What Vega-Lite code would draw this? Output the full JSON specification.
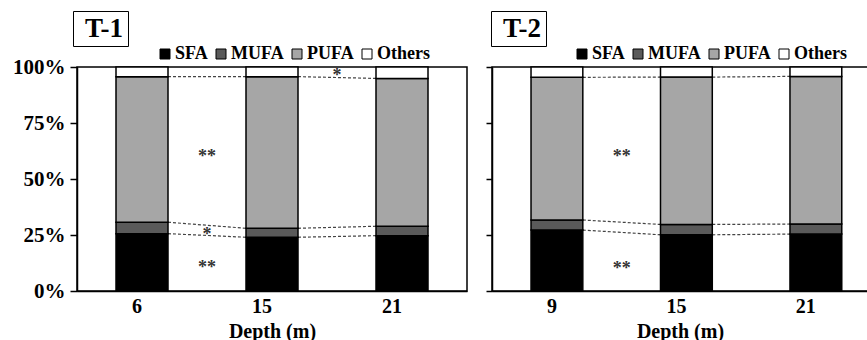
{
  "$schema": "https://vega.github.io/schema/vega-lite/v6.json",
  "padding": {"left": 11, "top": 9, "right": 0, "bottom": 0},
  "background": "white",
  "spacing": 16,
  "datasets": {
    "fa": [
      {"panel": "T-1", "depth": 6, "fa": "SFA", "pct": 25.6},
      {"panel": "T-1", "depth": 6, "fa": "MUFA", "pct": 5.1},
      {"panel": "T-1", "depth": 6, "fa": "PUFA", "pct": 65.0},
      {"panel": "T-1", "depth": 6, "fa": "Others", "pct": 4.3},
      {"panel": "T-1", "depth": 15, "fa": "SFA", "pct": 24.0},
      {"panel": "T-1", "depth": 15, "fa": "MUFA", "pct": 4.0},
      {"panel": "T-1", "depth": 15, "fa": "PUFA", "pct": 67.7},
      {"panel": "T-1", "depth": 15, "fa": "Others", "pct": 4.3},
      {"panel": "T-1", "depth": 21, "fa": "SFA", "pct": 24.7},
      {"panel": "T-1", "depth": 21, "fa": "MUFA", "pct": 4.2},
      {"panel": "T-1", "depth": 21, "fa": "PUFA", "pct": 66.0},
      {"panel": "T-1", "depth": 21, "fa": "Others", "pct": 5.1},
      {"panel": "T-2", "depth": 9, "fa": "SFA", "pct": 27.2},
      {"panel": "T-2", "depth": 9, "fa": "MUFA", "pct": 4.5},
      {"panel": "T-2", "depth": 9, "fa": "PUFA", "pct": 63.7},
      {"panel": "T-2", "depth": 9, "fa": "Others", "pct": 4.6},
      {"panel": "T-2", "depth": 15, "fa": "SFA", "pct": 25.1},
      {"panel": "T-2", "depth": 15, "fa": "MUFA", "pct": 4.6},
      {"panel": "T-2", "depth": 15, "fa": "PUFA", "pct": 65.8},
      {"panel": "T-2", "depth": 15, "fa": "Others", "pct": 4.5},
      {"panel": "T-2", "depth": 21, "fa": "SFA", "pct": 25.4},
      {"panel": "T-2", "depth": 21, "fa": "MUFA", "pct": 4.5},
      {"panel": "T-2", "depth": 21, "fa": "PUFA", "pct": 65.9},
      {"panel": "T-2", "depth": 21, "fa": "Others", "pct": 4.2}
    ],
    "sig": [
      {"panel": "T-1", "from": 6, "label": "**", "y": 0.597},
      {"panel": "T-1", "from": 6, "label": "*", "y": 0.248},
      {"panel": "T-1", "from": 6, "label": "**", "y": 0.102},
      {"panel": "T-1", "from": 15, "label": "*", "y": 0.958},
      {"panel": "T-2", "from": 9, "label": "**", "y": 0.596},
      {"panel": "T-2", "from": 9, "label": "**", "y": 0.099}
    ]
  },
  "config": {
    "font": "Liberation Serif",
    "view": {"stroke": "black", "strokeWidth": 1.5},
    "axis": {
      "labelFont": "Liberation Serif", "labelFontWeight": "bold", "labelColor": "black",
      "titleFont": "Liberation Serif", "titleFontWeight": "bold", "titleColor": "black",
      "domainColor": "black", "domainWidth": 1.5, "tickColor": "black", "tickWidth": 1.5, "grid": false
    }
  },
  "resolve": {
    "scale": {"color": "independent", "strokeDash": "independent", "x": "independent", "y": "independent"},
    "legend": {"color": "independent", "strokeDash": "independent"}
  },
  "hconcat": [
    {
      "width": 390,
      "height": 224,
      "layer": [
        {
          "data": {"name": "fa"},
          "transform": [
            {"filter": "datum.panel === 'T-1'"},
            {"calculate": "indexof(['SFA','MUFA','PUFA','Others'], datum.fa)", "as": "ord"},
            {"stack": "pct", "groupby": ["depth"], "offset": "normalize", "sort": [{"field": "ord"}], "as": ["lo", "hi"]},
            {"window": [{"op": "lead", "field": "depth", "as": "nd"}, {"op": "lead", "field": "hi", "as": "nhi"}], "groupby": ["fa"], "sort": [{"field": "depth"}]},
            {"filter": "datum.fa !== 'Others' && datum.nd != null"}
          ],
          "mark": {"type": "rule", "color": "#444444", "strokeWidth": 1.2},
          "encoding": {
            "x": {"field": "depth", "type": "ordinal", "bandPosition": 1},
            "x2": {"field": "nd", "bandPosition": 0},
            "y": {"field": "hi", "type": "quantitative"},
            "y2": {"field": "nhi"},
            "strokeDash": {
              "field": "panel", "type": "nominal",
              "scale": {"range": [[3, 2]]},
              "legend": {
                "title": null, "orient": "none", "legendX": -4, "legendY": -56,
                "strokeColor": "black", "fillColor": "white", "padding": 4,
                "symbolSize": 0, "symbolOpacity": 0, "symbolStrokeWidth": 0, "labelOffset": -19,
                "labelFont": "Liberation Serif", "labelFontSize": 27, "labelFontWeight": "bold", "labelColor": "black"
              }
            }
          }
        },
        {
          "data": {"name": "fa"},
          "transform": [
            {"filter": "datum.panel === 'T-1'"},
            {"calculate": "indexof(['SFA','MUFA','PUFA','Others'], datum.fa)", "as": "ord"},
            {"stack": "pct", "groupby": ["depth"], "offset": "normalize", "sort": [{"field": "ord"}], "as": ["lo", "hi"]}
          ],
          "mark": {"type": "bar", "stroke": "black", "strokeWidth": 1.5},
          "encoding": {
            "x": {
              "field": "depth", "type": "ordinal",
              "scale": {"paddingInner": 0.6, "paddingOuter": 0.3},
              "axis": {"title": "Depth (m)", "titleFontSize": 20, "titlePadding": 5, "labelFontSize": 20, "labelAngle": 0, "ticks": false, "labelPadding": 15}
            },
            "y": {
              "field": "lo", "type": "quantitative",
              "scale": {"domain": [0, 1], "nice": false},
              "axis": {"title": null, "values": [0, 0.25, 0.5, 0.75, 1], "format": ".0%", "labelFontSize": 21, "tickSize": 7, "labelPadding": 5}
            },
            "y2": {"field": "hi"},
            "color": {
              "field": "fa", "type": "nominal",
              "scale": {"domain": ["SFA", "MUFA", "PUFA", "Others"], "range": ["#000000", "#5a5a5a", "#a6a6a6", "#ffffff"]},
              "legend": {
                "title": null, "orient": "none", "legendX": 79, "legendY": -22, "direction": "horizontal",
                "symbolType": "square", "symbolSize": 100, "symbolStrokeColor": "black", "symbolStrokeWidth": 1,
                "labelFont": "Liberation Serif", "labelFontSize": 18, "labelFontWeight": "bold", "labelColor": "black",
                "labelOffset": 1, "columnPadding": 4, "padding": 0
              }
            }
          }
        },
        {
          "data": {"name": "sig"},
          "transform": [{"filter": "datum.panel === 'T-1'"}],
          "mark": {"type": "text", "fontSize": 18, "fontWeight": "bold", "color": "#333333", "font": "Liberation Serif", "baseline": "middle"},
          "encoding": {
            "x": {"field": "from", "type": "ordinal", "bandPosition": 1.75},
            "y": {"field": "y", "type": "quantitative"},
            "text": {"field": "label"}
          }
        }
      ]
    },
    {
      "width": 376,
      "height": 224,
      "layer": [
        {
          "data": {"name": "fa"},
          "transform": [
            {"filter": "datum.panel === 'T-2'"},
            {"calculate": "indexof(['SFA','MUFA','PUFA','Others'], datum.fa)", "as": "ord"},
            {"stack": "pct", "groupby": ["depth"], "offset": "normalize", "sort": [{"field": "ord"}], "as": ["lo", "hi"]},
            {"window": [{"op": "lead", "field": "depth", "as": "nd"}, {"op": "lead", "field": "hi", "as": "nhi"}], "groupby": ["fa"], "sort": [{"field": "depth"}]},
            {"filter": "datum.fa !== 'Others' && datum.nd != null"}
          ],
          "mark": {"type": "rule", "color": "#444444", "strokeWidth": 1.2},
          "encoding": {
            "x": {"field": "depth", "type": "ordinal", "bandPosition": 1},
            "x2": {"field": "nd", "bandPosition": 0},
            "y": {"field": "hi", "type": "quantitative"},
            "y2": {"field": "nhi"},
            "strokeDash": {
              "field": "panel", "type": "nominal",
              "scale": {"range": [[3, 2]]},
              "legend": {
                "title": null, "orient": "none", "legendX": -1, "legendY": -56,
                "strokeColor": "black", "fillColor": "white", "padding": 4,
                "symbolSize": 0, "symbolOpacity": 0, "symbolStrokeWidth": 0, "labelOffset": -19,
                "labelFont": "Liberation Serif", "labelFontSize": 27, "labelFontWeight": "bold", "labelColor": "black"
              }
            }
          }
        },
        {
          "data": {"name": "fa"},
          "transform": [
            {"filter": "datum.panel === 'T-2'"},
            {"calculate": "indexof(['SFA','MUFA','PUFA','Others'], datum.fa)", "as": "ord"},
            {"stack": "pct", "groupby": ["depth"], "offset": "normalize", "sort": [{"field": "ord"}], "as": ["lo", "hi"]}
          ],
          "mark": {"type": "bar", "stroke": "black", "strokeWidth": 1.5},
          "encoding": {
            "x": {
              "field": "depth", "type": "ordinal",
              "scale": {"paddingInner": 0.6, "paddingOuter": 0.252, "align": 0.598},
              "axis": {"title": "Depth (m)", "titleFontSize": 20, "titlePadding": 5, "labelFontSize": 20, "labelAngle": 0, "ticks": false, "labelPadding": 15}
            },
            "y": {
              "field": "lo", "type": "quantitative",
              "scale": {"domain": [0, 1], "nice": false},
              "axis": {"title": null, "values": [0, 0.25, 0.5, 0.75, 1], "labels": false, "tickSize": 6}
            },
            "y2": {"field": "hi"},
            "color": {
              "field": "fa", "type": "nominal",
              "scale": {"domain": ["SFA", "MUFA", "PUFA", "Others"], "range": ["#000000", "#5a5a5a", "#a6a6a6", "#ffffff"]},
              "legend": {
                "title": null, "orient": "none", "legendX": 81, "legendY": -22, "direction": "horizontal",
                "symbolType": "square", "symbolSize": 100, "symbolStrokeColor": "black", "symbolStrokeWidth": 1,
                "labelFont": "Liberation Serif", "labelFontSize": 18, "labelFontWeight": "bold", "labelColor": "black",
                "labelOffset": 1, "columnPadding": 4, "padding": 0
              }
            }
          }
        },
        {
          "data": {"name": "sig"},
          "transform": [{"filter": "datum.panel === 'T-2'"}],
          "mark": {"type": "text", "fontSize": 18, "fontWeight": "bold", "color": "#333333", "font": "Liberation Serif", "baseline": "middle"},
          "encoding": {
            "x": {"field": "from", "type": "ordinal", "bandPosition": 1.75},
            "y": {"field": "y", "type": "quantitative"},
            "text": {"field": "label"}
          }
        }
      ]
    }
  ]
}
